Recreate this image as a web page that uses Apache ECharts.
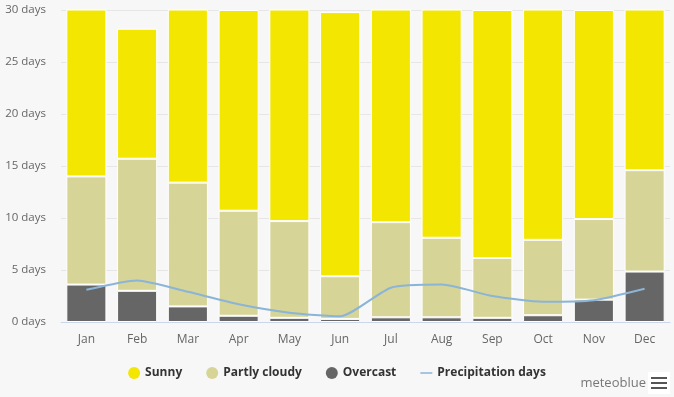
<!DOCTYPE html>
<html>
<head>
<meta charset="utf-8">
<script src="https://cdn.jsdelivr.net/npm/echarts@6/dist/echarts.min.js"></script>
<style>
  html, body {margin: 0; padding: 0; background: #f7f7f7;}
  #chart {width: 674px; height: 397px;}
</style>
</head>
<body>
<div id="chart"></div>
<script>
// monthly cloud cover days
let months = ['Jan', 'Feb', 'Mar', 'Apr', 'May', 'Jun', 'Jul', 'Aug', 'Sep', 'Oct', 'Nov', 'Dec'];
let overcast = [3.6, 3.0, 1.5, 0.6, 0.4, 0.3, 0.45, 0.45, 0.4, 0.65, 2.15, 4.85];
let partly = [10.4, 12.7, 11.9, 10.1, 9.3, 4.1, 9.15, 7.65, 5.75, 7.25, 7.75, 9.75];
let sunny = [17.0, 12.5, 17.6, 19.3, 21.3, 25.4, 21.4, 22.9, 23.85, 23.1, 20.1, 16.4];
let precip = [3.1, 4.0, 2.9, 1.7, 0.9, 0.55, 3.3, 3.6, 2.5, 1.95, 2.1, 3.2];
let yTicks = [0, 5, 10, 15, 20, 25, 30];

let font = 'Open Sans';
let e1 = echarts.init(document.getElementById('chart'));

let barSeries = function (name, data, color) {
  return {
    name: name, type: 'bar', stack: 'days', data: data,
    barWidth: '79%',
    itemStyle: {color: color, borderColor: '#ffffff', borderWidth: 1},
    emphasis: {disabled: true}
  };
};

e1.setOption({
  backgroundColor: '#f7f7f7',
  animation: false,
  grid: {left: 61, right: 4, top: 10, bottom: 75},
  legend: {
    bottom: 13, left: 'center',
    itemGap: 24, itemWidth: 12, itemHeight: 12,
    itemStyle: {borderWidth: 0},
    textStyle: {fontFamily: font, fontSize: 12, fontWeight: 'bold', color: '#333'},
    data: [
      {name: 'Sunny', icon: 'circle'},
      {name: 'Partly cloudy', icon: 'circle'},
      {name: 'Overcast', icon: 'circle'},
      {name: 'Precipitation days', icon: 'path://M0,5 L16,5 L16,7 L0,7 Z', itemStyle: {color: '#8ab4d8'}}
    ]
  },
  xAxis: {
    type: 'category', data: months,
    axisLine: {lineStyle: {color: '#ccd6eb'}},
    axisTick: {show: false},
    axisLabel: {fontFamily: font, fontSize: 12, color: '#666', margin: 12}
  },
  yAxis: {
    type: 'value', min: yTicks[0], max: yTicks[yTicks.length - 1], interval: 5,
    axisLabel: {
      fontFamily: font, fontSize: 11.5, color: '#666', margin: 15,
      formatter: function (v) {
        return v + ' days';
      }
    },
    splitLine: {lineStyle: {color: '#e6e6e6'}}
  },
  series: [
    barSeries('Overcast', overcast, '#666666'),
    barSeries('Partly cloudy', partly, '#d6d496'),
    barSeries('Sunny', sunny, '#f3e600'),
    {
      name: 'Precipitation days', type: 'line', data: precip,
      smooth: 0.2, symbol: 'none',
      lineStyle: {color: '#8ab4d8', width: 2},
      itemStyle: {color: '#8ab4d8'},
      z: 5
    }
  ],
  graphic: [
    {
      type: 'text', right: 28, bottom: 7,
      style: {text: 'meteoblue', fontFamily: font, fontSize: 13, fill: '#777'}
    },
    {
      type: 'group', right: 4, bottom: 3,
      children: [
        {type: 'rect', shape: {x: 0, y: 0, width: 22, height: 22}, style: {fill: '#ffffff'}},
        {type: 'rect', shape: {x: 3, y: 5, width: 16, height: 2}, style: {fill: '#555'}},
        {type: 'rect', shape: {x: 3, y: 10, width: 16, height: 2}, style: {fill: '#555'}},
        {type: 'rect', shape: {x: 3, y: 15, width: 16, height: 2}, style: {fill: '#555'}}
      ]
    }
  ]
});
</script>
</body>
</html>
